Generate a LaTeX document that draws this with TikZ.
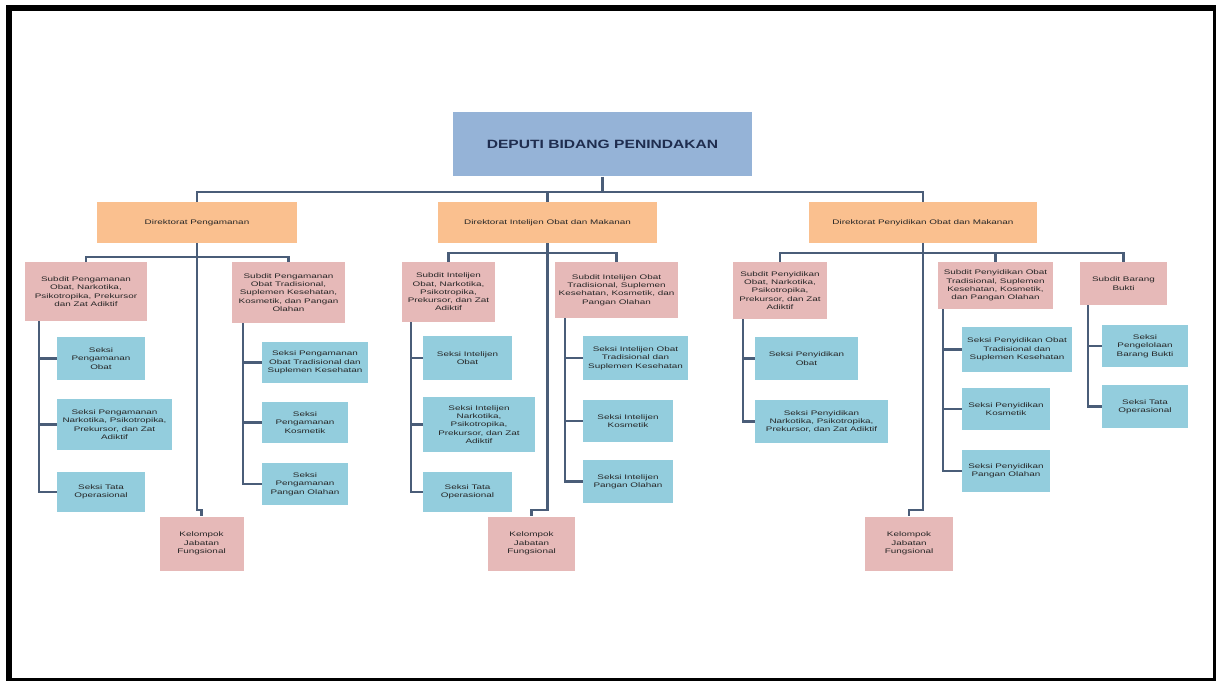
\documentclass[tikz,border=0pt]{standalone}
\usepackage{fontspec}
\setmainfont{Liberation Sans}
\newfontfamily\orgfont[FakeStretch=1.5]{Liberation Sans}
\newfontfamily\headfont[FakeStretch=1.3]{Liberation Sans}
\definecolor{framecol}{HTML}{000000}
\definecolor{linecol}{HTML}{4A5D78}
\definecolor{topfill}{HTML}{95B3D7}
\definecolor{dirfill}{HTML}{FAC08F}
\definecolor{subfill}{HTML}{E6B9B8}
\definecolor{seksifill}{HTML}{93CDDD}
\definecolor{txtcol}{HTML}{262626}
\definecolor{headcol}{HTML}{1F2D4F}
\begin{document}
\begin{tikzpicture}[x=1pt,y=-1pt,
    unit/.style={rectangle,inner sep=0pt,align=center,text=txtcol,
        font=\orgfont\fontsize{6.6}{8.3}\selectfont},
    deputi/.style={rectangle,inner sep=0pt,fill=topfill,text=headcol,
        font=\headfont\bfseries\fontsize{12}{14}\selectfont},
    dir/.style={unit,fill=dirfill},
    subdit/.style={unit,fill=subfill},
    seksi/.style={unit,fill=seksifill},
    kjf/.style={unit,fill=subfill},
    conn/.style={draw=linecol,line width=2.2pt}]
    \useasboundingbox (0,0) rectangle (1216,682);
    % frame
    \fill[framecol] (6,5) rectangle (1216,681);
    \fill[white] (12,11) rectangle (1213,678);

    % deputi and direktorat
    \node[deputi,minimum width=299pt,minimum height=64pt] (top) at (602.5,144.5) {DEPUTI BIDANG PENINDAKAN};
    \node[dir,minimum width=200pt,minimum height=41pt] (d1) at (197,222.5) {Direktorat Pengamanan};
    \node[dir,minimum width=219pt,minimum height=41pt] (d2) at (547.5,222.5) {Direktorat Intelijen Obat dan Makanan};
    \node[dir,minimum width=228pt,minimum height=41pt] (d3) at (923,222.5) {Direktorat Penyidikan Obat dan Makanan};

    % Direktorat Pengamanan
    \node[subdit,minimum width=122pt,minimum height=59pt] (s1a) at (86,291.5) {Subdit Pengamanan\\Obat, Narkotika,\\Psikotropika, Prekursor\\dan Zat Adiktif};
    \node[subdit,minimum width=113pt,minimum height=61pt] (s1b) at (288.5,292.5) {Subdit Pengamanan\\Obat Tradisional,\\Suplemen Kesehatan,\\Kosmetik, dan Pangan\\Olahan};
    \node[seksi,minimum width=88pt,minimum height=43pt] (e11) at (101,358.5) {Seksi\\Pengamanan\\Obat};
    \node[seksi,minimum width=115pt,minimum height=51pt] (e12) at (114.5,424.5) {Seksi Pengamanan\\Narkotika, Psikotropika,\\Prekursor, dan Zat\\Adiktif};
    \node[seksi,minimum width=88pt,minimum height=40pt] (e13) at (101,492) {Seksi Tata\\Operasional};
    \node[seksi,minimum width=106pt,minimum height=41pt] (e14) at (315,362.5) {Seksi Pengamanan\\Obat Tradisional dan\\Suplemen Kesehatan};
    \node[seksi,minimum width=86pt,minimum height=41pt] (e15) at (305,422.5) {Seksi\\Pengamanan\\Kosmetik};
    \node[seksi,minimum width=86pt,minimum height=42pt] (e16) at (305,484) {Seksi\\Pengamanan\\Pangan Olahan};
    \node[kjf,minimum width=84pt,minimum height=54pt] (k1) at (201.5,543.5) {Kelompok\\Jabatan\\Fungsional};

    % Direktorat Intelijen
    \node[subdit,minimum width=93pt,minimum height=60pt] (s2a) at (448.5,292) {Subdit Intelijen\\Obat, Narkotika,\\Psikotropika,\\Prekursor, dan Zat\\Adiktif};
    \node[subdit,minimum width=123pt,minimum height=56pt] (s2b) at (616.5,290) {Subdit Intelijen Obat\\Tradisional, Suplemen\\Kesehatan, Kosmetik, dan\\Pangan Olahan};
    \node[seksi,minimum width=89pt,minimum height=44pt] (e21) at (467.5,358) {Seksi Intelijen\\Obat};
    \node[seksi,minimum width=112pt,minimum height=55pt] (e22) at (479,424.5) {Seksi Intelijen\\Narkotika,\\Psikotropika,\\Prekursor, dan Zat\\Adiktif};
    \node[seksi,minimum width=89pt,minimum height=40pt] (e23) at (467.5,492) {Seksi Tata\\Operasional};
    \node[seksi,minimum width=105pt,minimum height=44pt] (e24) at (635.5,358) {Seksi Intelijen Obat\\Tradisional dan\\Suplemen Kesehatan};
    \node[seksi,minimum width=90pt,minimum height=42pt] (e25) at (628,421) {Seksi Intelijen\\Kosmetik};
    \node[seksi,minimum width=90pt,minimum height=43pt] (e26) at (628,481.5) {Seksi Intelijen\\Pangan Olahan};
    \node[kjf,minimum width=87pt,minimum height=54pt] (k2) at (531.5,543.5) {Kelompok\\Jabatan\\Fungsional};

    % Direktorat Penyidikan
    \node[subdit,minimum width=94pt,minimum height=57pt] (s3a) at (780,290.5) {Subdit Penyidikan\\Obat, Narkotika,\\Psikotropika,\\Prekursor, dan Zat\\Adiktif};
    \node[subdit,minimum width=115pt,minimum height=47pt] (s3b) at (995.5,285.5) {Subdit Penyidikan Obat\\Tradisional, Suplemen\\Kesehatan, Kosmetik,\\dan Pangan Olahan};
    \node[subdit,minimum width=87pt,minimum height=43pt] (s3c) at (1123.5,283.5) {Subdit Barang\\Bukti};
    \node[seksi,minimum width=103pt,minimum height=43pt] (e31) at (806.5,358.5) {Seksi Penyidikan\\Obat};
    \node[seksi,minimum width=133pt,minimum height=43pt] (e32) at (821.5,421.5) {Seksi Penyidikan\\Narkotika, Psikotropika,\\Prekursor, dan Zat Adiktif};
    \node[seksi,minimum width=110pt,minimum height=45pt] (e33) at (1017,349.5) {Seksi Penyidikan Obat\\Tradisional dan\\Suplemen Kesehatan};
    \node[seksi,minimum width=88pt,minimum height=42pt] (e34) at (1006,409) {Seksi Penyidikan\\Kosmetik};
    \node[seksi,minimum width=88pt,minimum height=42pt] (e35) at (1006,471) {Seksi Penyidikan\\Pangan Olahan};
    \node[seksi,minimum width=86pt,minimum height=42pt] (e36) at (1145,346) {Seksi\\Pengelolaan\\Barang Bukti};
    \node[seksi,minimum width=86pt,minimum height=43pt] (e37) at (1145,406.5) {Seksi Tata\\Operasional};
    \node[kjf,minimum width=88pt,minimum height=54pt] (k3) at (909,543.5) {Kelompok\\Jabatan\\Fungsional};

    % bus points
    \coordinate (bus) at (602.5,192);
    \coordinate (b1) at (197,257);
    \coordinate (b2) at (547.5,253);
    \coordinate (b3) at (923,253);
    \coordinate (j1) at (197,510);
    \coordinate (j2) at (547.5,510);
    \coordinate (j3) at (923,510);
    \coordinate (p1a) at (39,321);
    \coordinate (p1b) at (243,323);
    \coordinate (p2a) at (411,322);
    \coordinate (p2b) at (565,318);
    \coordinate (p3a) at (743,319);
    \coordinate (p3b) at (943,309);
    \coordinate (p3c) at (1088,305);

    % connectors
    \draw[conn] (top.south) -- (bus);
    \draw[conn] (d1.north) |- (bus) -| (d3.north);
    \draw[conn] (d2.north) |- (bus);
    \draw[conn] (s1a.north) |- (b1) -| (s1b.north);
    \draw[conn] (s2a.north) |- (b2) -| (s2b.north);
    \draw[conn] (s3a.north) |- (b3) -| (s3c.north);
    \draw[conn] (s3b.north) |- (b3);
    \draw[conn] (d1.south) -- (j1) -| (k1.north);
    \draw[conn] (d2.south) -- (j2) -| (k2.north);
    \draw[conn] (d3.south) -- (j3) -| (k3.north);
    \foreach \e in {e11,e12,e13} \draw[conn] (p1a) |- (\e.west);
    \foreach \e in {e14,e15,e16} \draw[conn] (p1b) |- (\e.west);
    \foreach \e in {e21,e22,e23} \draw[conn] (p2a) |- (\e.west);
    \foreach \e in {e24,e25,e26} \draw[conn] (p2b) |- (\e.west);
    \foreach \e in {e31,e32} \draw[conn] (p3a) |- (\e.west);
    \foreach \e in {e33,e34,e35} \draw[conn] (p3b) |- (\e.west);
    \foreach \e in {e36,e37} \draw[conn] (p3c) |- (\e.west);
\end{tikzpicture}
\end{document}
